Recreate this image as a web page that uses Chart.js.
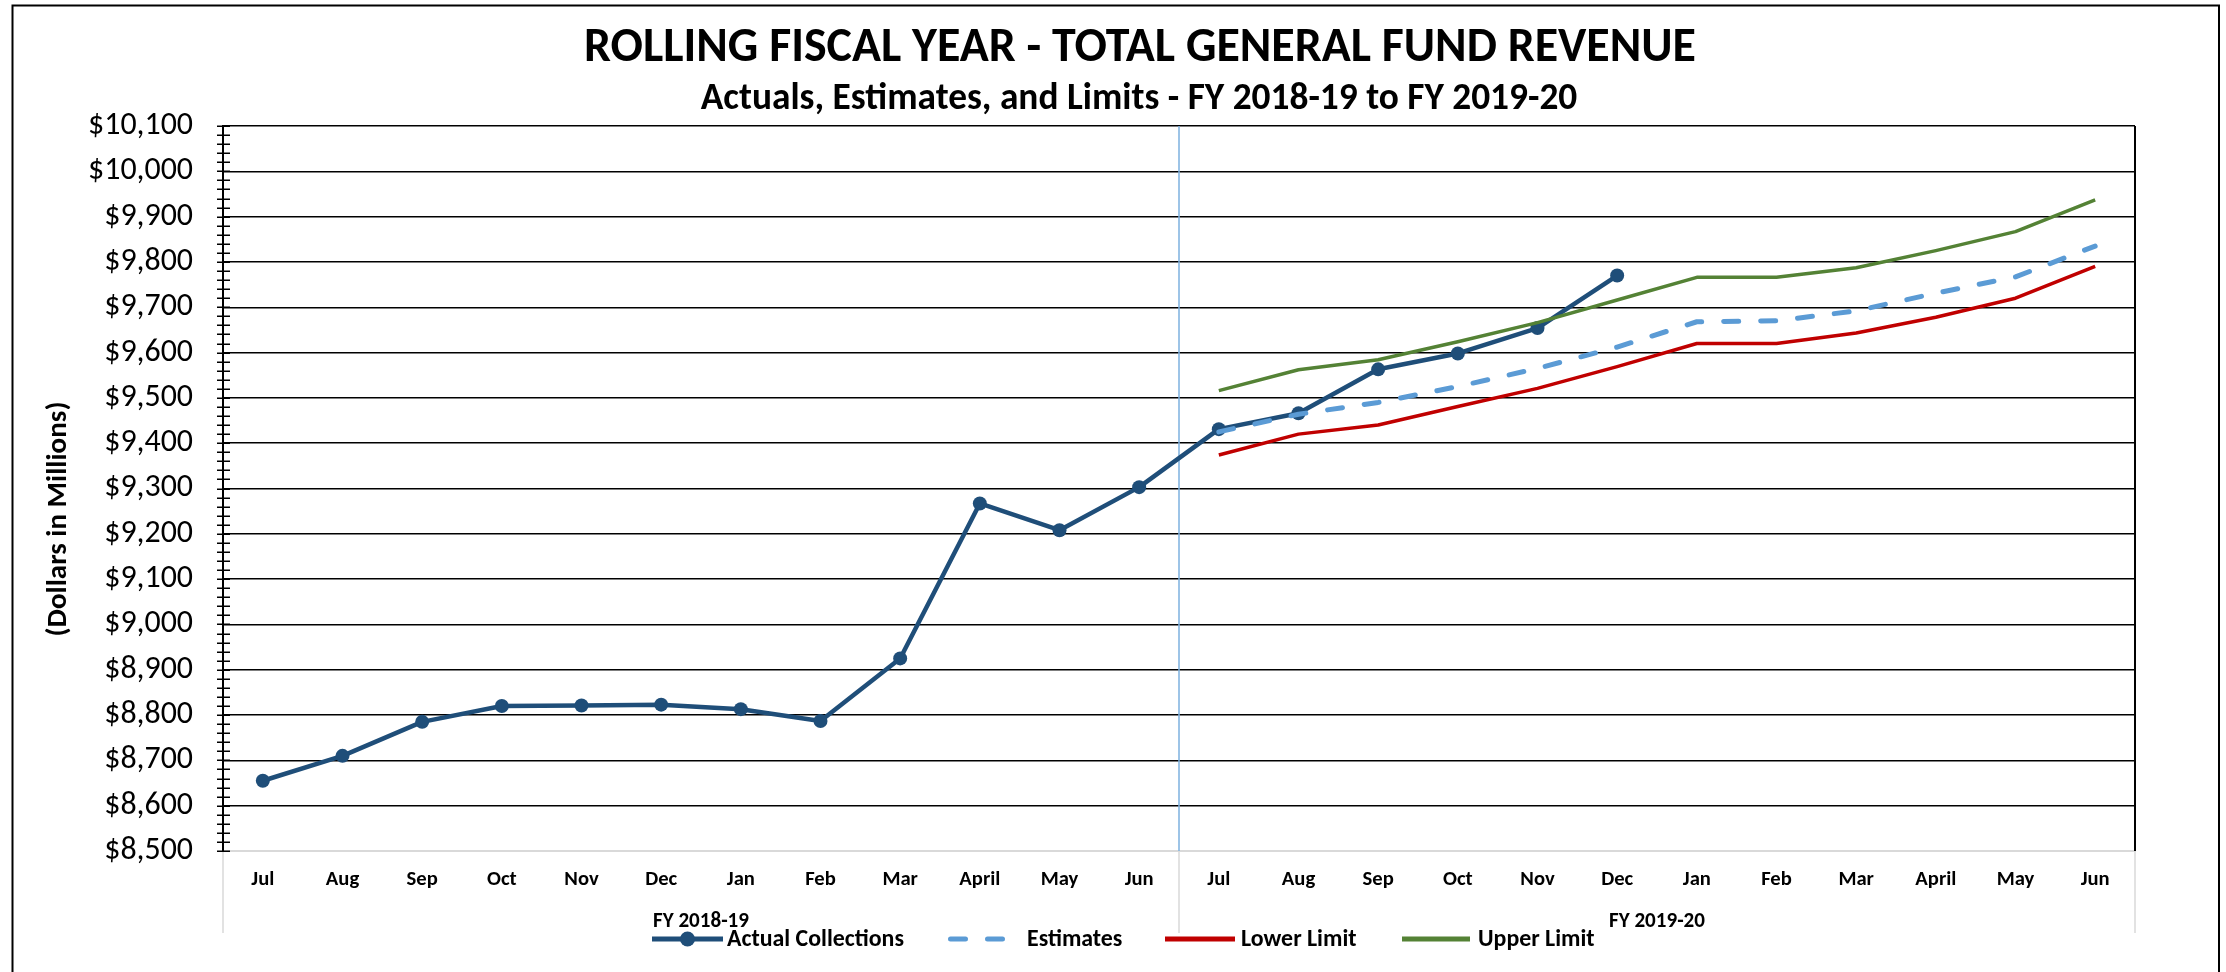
<!DOCTYPE html>
<html>
<head>
<meta charset="utf-8">
<script src="https://cdn.jsdelivr.net/npm/chart.js@4.4.1/dist/chart.umd.min.js"></script>
<style>
  html, body { margin: 0; padding: 0; background: #fff; }
  canvas { display: block; }
</style>
</head>
<body>
<canvas id="c" width="2226" height="972"></canvas>
<script>
// ---------------- DATA ----------------
const categories = ['Jul','Aug','Sep','Oct','Nov','Dec','Jan','Feb','Mar','April','May','Jun',
                    'Jul','Aug','Sep','Oct','Nov','Dec','Jan','Feb','Mar','April','May','Jun'];
const groupLabels = ['FY 2018-19', 'FY 2019-20'];
const actualCollections = [8655, 8710, 8785, 8820, 8821, 8823, 8813, 8787, 8925, 9267, 9208, 9303,
                           9431, 9466, 9563, 9598, 9654, 9770, null, null, null, null, null, null];
const estimates  = [null, null, null, null, null, null, null, null, null, null, null, null,
                    9425, 9464, 9490, 9525, 9565, 9612, 9668, 9670, 9692, 9731, 9767, 9835];
const lowerLimit = [null, null, null, null, null, null, null, null, null, null, null, null,
                    9374, 9420, 9440, 9481, 9521, 9569, 9620, 9620, 9643, 9678, 9720, 9790];
const upperLimit = [null, null, null, null, null, null, null, null, null, null, null, null,
                    9516, 9562, 9584, 9624, 9666, 9716, 9766, 9766, 9787, 9825, 9867, 9937];
const yTickValues = [8500, 8600, 8700, 8800, 8900, 9000, 9100, 9200, 9300, 9400,
                     9500, 9600, 9700, 9800, 9900, 10000, 10100];
const seriesNames = ['Actual Collections', 'Estimates', 'Lower Limit', 'Upper Limit'];
const titleText = 'ROLLING FISCAL YEAR - TOTAL GENERAL FUND REVENUE';
const subtitleText = 'Actuals, Estimates, and Limits - FY 2018-19 to FY 2019-20';
const yTitleText = '(Dollars in Millions)';

// ---------------- STYLE ----------------
const FAMILY = 'Carlito, Calibri, Lato, sans-serif';
const mctx = document.createElement('canvas').getContext('2d');
function fit(text, weight, target) {
  mctx.font = weight + ' 100px ' + FAMILY;
  return 100 * target / mctx.measureText(text).width;
}
const fmt = v => '$' + Number(v).toLocaleString('en-US');
const sizeTitle = fit(titleText, 'bold', 1112);
const sizeSub = fit(subtitleText, 'bold', 877);
const sizeYTitle = fit(yTitleText, 'bold', 235);
const sizeYTick = fit('$10,100', 'normal', 105);
const sizeXTick = fit('April', 'bold', 41);
const sizeGroup = fit('FY 2018-19', 'bold', 96);
const sizeLegend = fit('Actual Collections', 'bold', 177);

const C_ACTUAL = '#1F4E79';
const C_EST = '#5B9BD5';
const C_LOW = '#C00000';
const C_UP = '#548235';

const decor = {
  id: 'decor',
  beforeDatasetsDraw(chart) {
    const ctx = chart.ctx, a = chart.chartArea, x = chart.scales.x;
    const mid = (x.getPixelForValue(11) + x.getPixelForValue(12)) / 2;
    ctx.save();
    // right plot border
    ctx.strokeStyle = '#000'; ctx.lineWidth = 2;
    ctx.beginPath(); ctx.moveTo(a.right, a.top); ctx.lineTo(a.right, a.bottom); ctx.stroke();
    // fiscal year divider
    ctx.strokeStyle = '#7DB0DF'; ctx.lineWidth = 1.5;
    ctx.beginPath(); ctx.moveTo(mid, a.top); ctx.lineTo(mid, a.bottom); ctx.stroke();
    ctx.restore();
  },
  afterDraw(chart) {
    const ctx = chart.ctx, a = chart.chartArea, x = chart.scales.x, y = chart.scales.y;
    const mid = (x.getPixelForValue(11) + x.getPixelForValue(12)) / 2;
    ctx.save();
    // outer frame
    ctx.strokeStyle = '#000'; ctx.lineWidth = 2;
    ctx.strokeRect(12.5, 5.5, 2219 - 12.5, 1000);
    // category group separators
    ctx.strokeStyle = '#D9D9D9'; ctx.lineWidth = 1.5;
    [a.left, mid, a.right].forEach(px => {
      ctx.beginPath(); ctx.moveTo(px, a.bottom); ctx.lineTo(px, 933); ctx.stroke();
    });
    // y axis tick marks (major + minor)
    ctx.strokeStyle = '#000'; ctx.lineWidth = 1.5;
    for (let v = y.min; v <= y.max + 0.001; v += 20) {
      const py = Math.round(y.getPixelForValue(v)) + 0.25;
      ctx.beginPath(); ctx.moveTo(a.left - 6, py); ctx.lineTo(a.left + 7, py); ctx.stroke();
    }
    // titles
    ctx.fillStyle = '#000';
    ctx.textAlign = 'center'; ctx.textBaseline = 'alphabetic';
    ctx.font = 'bold ' + sizeTitle + 'px ' + FAMILY;
    ctx.fillText(titleText, 1140, 61);
    ctx.font = 'bold ' + sizeSub + 'px ' + FAMILY;
    ctx.fillText(subtitleText, 1139, 109);
    // y title
    ctx.save();
    ctx.translate(59, 519); ctx.rotate(-Math.PI / 2);
    ctx.font = 'bold ' + sizeYTitle + 'px ' + FAMILY;
    ctx.textBaseline = 'middle';
    ctx.fillText(yTitleText, 0, 0);
    ctx.restore();
    // group labels
    ctx.font = 'bold ' + sizeGroup + 'px ' + FAMILY;
    ctx.textBaseline = 'alphabetic';
    ctx.fillText(groupLabels[0], (a.left + mid) / 2, 927);
    ctx.fillText(groupLabels[1], (mid + a.right) / 2, 927);
    // legend
    const ly = 939;
    const ds = chart.data.datasets;
    const items = [
      { i: 0, x0: 652, x1: 723, tx: 727 },
      { i: 1, x0: 950.5, x1: 1004.5, tx: 1027 },
      { i: 2, x0: 1165, x1: 1235, tx: 1241 },
      { i: 3, x0: 1402, x1: 1470, tx: 1478 }
    ];
    ctx.font = 'bold ' + sizeLegend + 'px ' + FAMILY;
    ctx.textAlign = 'left';
    items.forEach(it => {
      const d = ds[it.i];
      ctx.save();
      ctx.strokeStyle = d.borderColor; ctx.lineWidth = 5;
      if (d.borderDash && d.borderDash.length) { ctx.setLineDash(d.borderDash); ctx.lineCap = 'round'; }
      ctx.beginPath(); ctx.moveTo(it.x0, ly); ctx.lineTo(it.x1, ly); ctx.stroke();
      if (d.pointRadius > 0) {
        ctx.fillStyle = d.pointBackgroundColor;
        ctx.beginPath(); ctx.arc((it.x0 + it.x1) / 2, ly, 7.5, 0, Math.PI * 2); ctx.fill();
      }
      ctx.restore();
      ctx.fillStyle = '#000';
      ctx.fillText(d.label, it.tx, 946);
    });
    ctx.restore();
  }
};

new Chart(document.getElementById('c'), {
  type: 'line',
  data: {
    labels: categories,
    datasets: [
      { label: seriesNames[0], data: actualCollections, borderColor: C_ACTUAL, backgroundColor: C_ACTUAL,
        borderWidth: 4.5, pointRadius: 7, pointBorderWidth: 0, pointBackgroundColor: C_ACTUAL,
        pointBorderColor: C_ACTUAL, borderJoinStyle: 'round', order: 4, spanGaps: false },
      { label: seriesNames[1], data: estimates, borderColor: C_EST, backgroundColor: C_EST,
        borderWidth: 5, borderDash: [15, 22], borderCapStyle: 'round', borderJoinStyle: 'round',
        pointRadius: 0, order: 3 },
      { label: seriesNames[2], data: lowerLimit, borderColor: C_LOW, backgroundColor: C_LOW,
        borderWidth: 3.5, pointRadius: 0, borderJoinStyle: 'round', order: 2 },
      { label: seriesNames[3], data: upperLimit, borderColor: C_UP, backgroundColor: C_UP,
        borderWidth: 3.5, pointRadius: 0, borderJoinStyle: 'round', order: 1 }
    ]
  },
  options: {
    responsive: false,
    animation: false,
    devicePixelRatio: 1,
    layout: { padding: { top: 126, right: 91, bottom: 0, left: 0 } },
    plugins: { legend: { display: false }, title: { display: false }, tooltip: { enabled: false } },
    elements: { line: { tension: 0 } },
    scales: {
      x: {
        type: 'category', offset: true,
        grid: { display: false, drawTicks: false },
        border: { display: true, color: '#D9D9D9', width: 2 },
        ticks: { color: '#000', font: { family: FAMILY, size: sizeXTick, weight: 'bold' },
                 padding: 16, maxRotation: 0, autoSkip: false },
        afterFit: s => { s.height = 121; }
      },
      y: {
        min: 8500, max: 10100,
        afterBuildTicks: s => { s.ticks = yTickValues.map(v => ({ value: v })); },
        ticks: { color: '#000', font: { family: FAMILY, size: sizeYTick }, padding: 30,
                 callback: v => fmt(v) },
        grid: { color: c => (c.tick && c.tick.value === 8500) ? 'rgba(0,0,0,0)' : '#000',
                lineWidth: 1.5, drawTicks: false },
        border: { color: '#000', width: 2 },
        afterFit: s => { s.width = 223; }
      }
    }
  },
  plugins: [decor]
});
</script>
</body>
</html>
